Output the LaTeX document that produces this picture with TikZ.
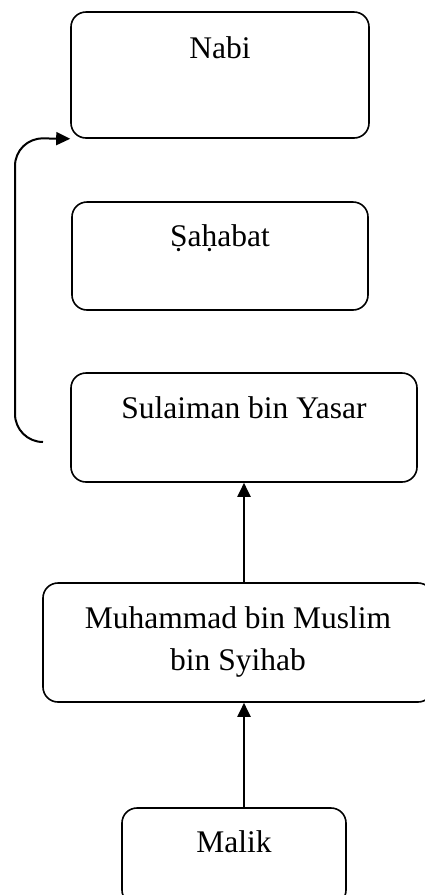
\documentclass[tikz,border=0pt]{standalone}
\usepackage{fontspec}
\setmainfont{Liberation Serif}
\usetikzlibrary{arrows.meta}
\begin{document}
\begin{tikzpicture}[x=1pt,y=-1pt,
  box/.style={draw, line width=1.6pt, rounded corners=15pt, inner sep=0pt},
  lbl/.style={anchor=base, inner sep=0pt, font=\fontsize{31.5}{42}\selectfont},
  arr/.style={line width=2pt, -{Triangle[length=14pt,width=13pt]}}]
  \useasboundingbox (0,0) rectangle (424,895);
  % chain boxes
  \node[box, minimum width=298pt, minimum height=126pt] (nabi) at (220,75) {};
  \node[box, minimum width=296pt, minimum height=108pt] (sahabat) at (220,256) {};
  \node[box, minimum width=346pt, minimum height=109pt] (sul) at (244,427.5) {};
  \node[box, minimum width=390pt, minimum height=119pt] (muh) at (238,642.5) {};
  \node[box, minimum width=224pt, minimum height=97pt] (malik) at (234,856.5) {};
  % names, set near the top of each box
  \node[lbl] (nabi-t) at (220,58) {Nabi};
  \node[lbl] (sahabat-t) at (220,246) {Ṣaḥabat};
  \node[lbl] (sul-t) at (244,418) {Sulaiman bin Yasar};
  \node[lbl] (muh-t1) at (238,628) {Muhammad bin Muslim};
  \node[lbl] (muh-t2) at (238,670) {bin Syihab};
  \node[lbl] (malik-t) at (234,852) {Malik};
  % transmission arrows
  \draw[arr] (malik.north -| sul.south) -- (muh.south -| sul.south);
  \draw[arr] (muh.north -| sul.south) -- (sul.south);
  % link from Sulaiman back up to the Prophet
  \coordinate (back) at (43,442);
  \draw[arr, rounded corners=28pt] (back) -| (15,138) -- (nabi.south west);
\end{tikzpicture}
\end{document}
